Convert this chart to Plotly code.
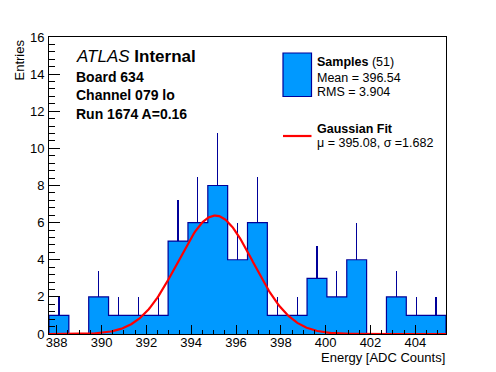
import numpy as np
import plotly.graph_objects as go

# ---- data ----
x_min = 387.656
x_max = 405.37
n_bins = 20
counts = [1, 0, 2, 1, 1, 1, 5, 6, 8, 4, 6, 1, 1, 3, 2, 4, 0, 2, 1, 1]
fit_mu = 395.08
fit_sigma = 1.682
fit_amp = 6.38
n_samples = 51
mean_val = 396.54
rms_val = 3.904
y_ticks = [0, 2, 4, 6, 8, 10, 12, 14, 16]
x_ticks = [388, 390, 392, 394, 396, 398, 400, 402, 404]

FILL = "#0099FF"
NAVY = "#000099"
FONT = "Liberation Sans, Arial, Helvetica, sans-serif"

edges = np.linspace(x_min, x_max, n_bins + 1)
centers = 0.5 * (edges[:-1] + edges[1:])
bw = edges[1] - edges[0]
cnt = np.array(counts, dtype=float)
err = np.sqrt(cnt)

fig = go.Figure()

# histogram fill with upward error bars (lower half hidden in fill)
fig.add_trace(go.Bar(
    x=centers, y=cnt, width=bw,
    marker=dict(color=FILL, line=dict(width=0)),
    error_y=dict(type="data", symmetric=False, array=err,
                 arrayminus=np.zeros_like(err), width=0,
                 color=NAVY, thickness=1.2),
    showlegend=False, hoverinfo="skip",
))

# step outline
sx = np.concatenate([[edges[0]], edges, [edges[-1]]])
sy = np.concatenate([[0], cnt, [cnt[-1], 0]])
fig.add_trace(go.Scatter(
    x=sx, y=sy, mode="lines", line=dict(color=NAVY, width=1.2, shape="hv"),
    showlegend=False, hoverinfo="skip",
))

# gaussian fit curve
gx = np.linspace(x_min, x_max, 400)
gy = fit_amp * np.exp(-0.5 * ((gx - fit_mu) / fit_sigma) ** 2)
fig.add_trace(go.Scatter(
    x=gx, y=gy, mode="lines", line=dict(color="#FF0000", width=2.2),
    showlegend=False, hoverinfo="skip",
))

# page has an 8px body margin; figure sized to fit the 496x372 window
OFF = 8
W, H = 496 - OFF, 372 - OFF
# frame in page pixels: x 49..446, y 37..334
FL, FR, FT, FB = 49, 446, 37, 334
L = FL - OFF
T = FT - OFF
R = W - (FR - OFF)
B = H - (FB - OFF)
pw, ph = FR - FL, FB - FT


def px(xp):
    return (xp - FL) / pw


def py(yp):
    return (FB - yp) / ph


fig.update_layout(
    width=W, height=H,
    margin=dict(l=L, r=R, t=T, b=B, pad=0),
    paper_bgcolor="white", plot_bgcolor="white",
    bargap=0, showlegend=False,
    font=dict(family=FONT, color="black", size=13),
)

fig.update_xaxes(
    range=[x_min, x_max], showgrid=False, zeroline=False,
    showline=True, linecolor="black", linewidth=1, mirror=True,
    ticks="inside", ticklen=9, tickcolor="black", tickwidth=1,
    tickvals=x_ticks, ticktext=[str(v) for v in x_ticks],
    tickfont=dict(size=13, family=FONT),
    ticklabelstandoff=-4,
    minor=dict(dtick=0.5, tick0=388, ticks="inside", ticklen=4,
               tickcolor="black", showgrid=False),
)
fig.update_yaxes(
    range=[0, 16], showgrid=False, zeroline=False,
    showline=True, linecolor="black", linewidth=1, mirror=True,
    ticks="inside", ticklen=11, tickcolor="black", tickwidth=1,
    tickvals=y_ticks, ticktext=[str(v) for v in y_ticks],
    tickfont=dict(size=13, family=FONT),
    ticklabelstandoff=1,
    minor=dict(dtick=0.4, tick0=0, ticks="inside", ticklen=6,
               tickcolor="black", showgrid=False),
)

ann = []


def add_text(text, xp, yp, size, xanchor="left", yanchor="middle", **kw):
    ann.append(dict(text=text, x=px(xp), y=py(yp), xref="paper", yref="paper",
                    xanchor=xanchor, yanchor=yanchor, showarrow=False,
                    font=dict(family=FONT, size=size, color="black"), **kw))


add_text("<i>ATLAS</i> <b>Internal</b>", 74, 56, 17)
add_text("<b>Board 634</b>", 74, 77, 14)
add_text("<b>Channel 079 lo</b>", 74, 95, 14)
add_text("<b>Run 1674 A=0.16</b>", 74, 114, 14)

add_text(f"<b>Samples</b> ({n_samples})", 315, 62, 12.5)
add_text(f"Mean = {mean_val:.2f}", 315, 78, 12.5)
add_text(f"RMS = {rms_val:.3f}", 315, 92, 12.5)
add_text("<b>Gaussian Fit</b>", 315, 129, 12.5)
add_text(f"\u03bc = {fit_mu:.2f}, \u03c3 ={fit_sigma:.3f}", 315, 143, 12.5)

add_text("Energy [ADC Counts]", 447, 357, 13, xanchor="right")
ann.append(dict(text="Entries", x=px(19), y=py(37), xref="paper", yref="paper",
                xanchor="center", yanchor="top", textangle=-90, showarrow=False,
                font=dict(family=FONT, size=13, color="black")))

fig.update_layout(annotations=ann)

fig.add_shape(type="rect", xref="paper", yref="paper",
              x0=px(283), x1=px(311.5), y0=py(96.5), y1=py(53),
              fillcolor=FILL, line=dict(color=NAVY, width=1.2))
fig.add_shape(type="line", xref="paper", yref="paper",
              x0=px(283), x1=px(311.5), y0=py(136), y1=py(136),
              line=dict(color="#FF0000", width=2.2))

fig.write_html("out.html")
